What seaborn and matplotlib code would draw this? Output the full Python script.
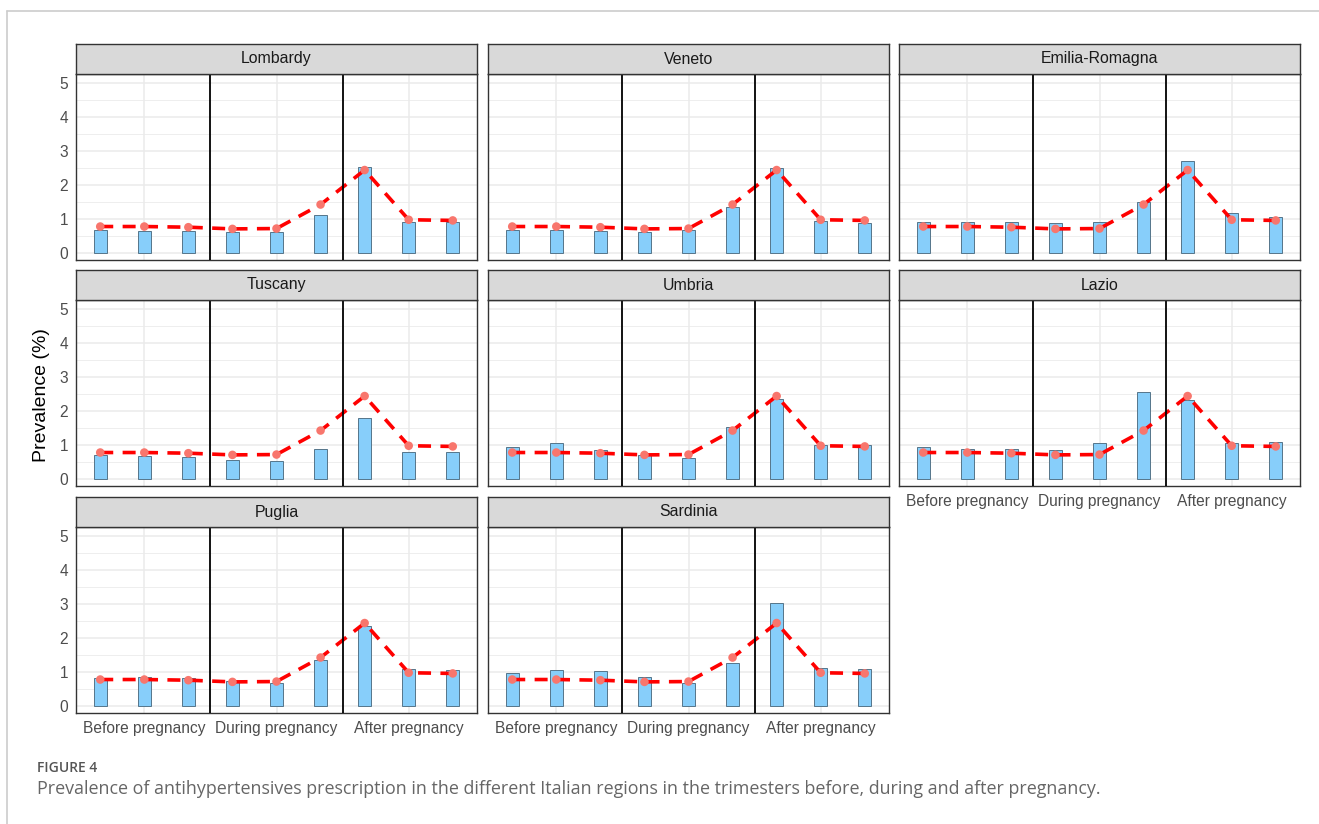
import numpy as np
import pandas as pd
import matplotlib.pyplot as plt
import seaborn as sns
from matplotlib.lines import Line2D

# data (prevalence %, 3 trimesters x before/during/after)
regions = ["Lombardy", "Veneto", "Emilia-Romagna", "Tuscany", "Umbria", "Lazio", "Puglia", "Sardinia"]
periods = ["Before pregnancy", "During pregnancy", "After pregnancy"]
slots = ["B1", "B2", "B3", "D1", "D2", "D3", "A1", "A2", "A3"]

lombardy = [0.66, 0.63, 0.64, 0.60, 0.60, 1.11, 2.54, 0.91, 0.89]
veneto = [0.66, 0.66, 0.63, 0.62, 0.66, 1.36, 2.51, 0.93, 0.86]
emilia = [0.91, 0.91, 0.90, 0.88, 0.90, 1.50, 2.71, 1.16, 1.06]
tuscany = [0.70, 0.66, 0.64, 0.54, 0.51, 0.87, 1.80, 0.78, 0.78]
umbria = [0.93, 1.04, 0.85, 0.70, 0.60, 1.52, 2.35, 1.00, 0.98]
lazio = [0.92, 0.87, 0.88, 0.84, 1.06, 2.57, 2.32, 1.06, 1.08]
puglia = [0.82, 0.85, 0.82, 0.74, 0.68, 1.35, 2.34, 1.08, 1.06]
sardinia = [0.97, 1.05, 1.01, 0.85, 0.68, 1.27, 3.02, 1.11, 1.07]

# national reference (red dashed line)
italy = [0.77, 0.77, 0.75, 0.70, 0.71, 1.42, 2.44, 0.97, 0.95]

values = [lombardy, veneto, emilia, tuscany, umbria, lazio, puglia, sardinia]

rows = []
for r, v in zip(regions, values):
    for s, p in zip(slots, v):
        rows.append({"region": r, "slot": s, "prevalence": p})
df = pd.DataFrame(rows)
ref = pd.DataFrame({"pos": np.arange(len(slots)), "value": italy})

sns.set_style("white")
plt.rcParams['font.family'] = ['Liberation Sans', 'DejaVu Sans']

W, H = 1319, 824
fig = plt.figure(figsize=(W / 100, H / 100), dpi=100)

col_left = [76, 488, 899]
pw = 401
row_top = [74, 300, 527]
ph = 186
strip_h = 30
bottom_panels = {"Lazio", "Puglia", "Sardinia"}

for i, reg in enumerate(regions):
    r, c = divmod(i, 3)
    l, t = col_left[c], row_top[r]
    ax = fig.add_axes([l / W, 1 - (t + ph) / H, pw / W, ph / H])
    sub = df[df.region == reg]
    sns.barplot(data=sub, x="slot", y="prevalence", order=slots, width=0.3,
                color="#87CEFA", saturation=1, edgecolor="#55758a", linewidth=0.7, ax=ax)
    sns.lineplot(data=ref, x="pos", y="value", color="#FF0000", linewidth=2.6,
                 linestyle=(0, (3.6, 2.6)), ax=ax, zorder=3)
    sns.scatterplot(data=ref, x="pos", y="value", color="#F8766D", s=38,
                    edgecolor="none", ax=ax, zorder=4)
    ax.axvline(2.5, color="black", lw=1.3, zorder=5)
    ax.axvline(5.5, color="black", lw=1.3, zorder=5)

    ax.set_xlim(-0.55, 8.55)
    ax.set_ylim(-0.22, 5.28)
    ax.set_yticks(range(6))
    ax.set_yticks(np.arange(0.5, 5.5, 1), minor=True)
    ax.set_xticks([1, 4, 7])
    ax.set_xticklabels(periods)
    ax.grid(which="major", color="#EBEBEB", lw=1.1)
    ax.grid(which="minor", axis="y", color="#EBEBEB", lw=0.6)
    ax.set_axisbelow(True)
    ax.set_xlabel("")
    ax.set_ylabel("")
    for sp in ax.spines.values():
        sp.set_color("#333333")
        sp.set_linewidth(1.0)
    ax.tick_params(axis="both", which="major", length=3.5, color="#333333",
                   labelcolor="#4D4D4D", labelsize=11.2, pad=2, width=0.9)
    ax.tick_params(axis="y", which="minor", length=0)
    if c > 0:
        ax.tick_params(axis="y", length=0, labelleft=False)
    if reg not in bottom_panels:
        ax.tick_params(axis="x", length=0, labelbottom=False)

    # facet strip
    sax = fig.add_axes([l / W, 1 - t / H, pw / W, strip_h / H])
    sax.set_facecolor("#D9D9D9")
    sax.set_xticks([])
    sax.set_yticks([])
    for sp in sax.spines.values():
        sp.set_color("#333333")
        sp.set_linewidth(1.0)
    sax.text(0.5, 0.5, reg, ha="center", va="center", fontsize=11.4,
             color="#1A1A1A", transform=sax.transAxes)

fig.text(42 / W, 1 - 395 / H, "Prevalence (%)", rotation=90, ha="center",
         va="center", fontsize=14, color="black")

# page frame lines
fig.add_artist(Line2D([7 / W, 1], [1 - 10.5 / H, 1 - 10.5 / H], color="#cccccc", lw=1.2))
fig.add_artist(Line2D([7 / W, 7 / W], [0, 1 - 10.5 / H], color="#cccccc", lw=1.2))

fig.text(37 / W, 1 - 768 / H, "FIGURE 4", ha="left", va="center", fontsize=10,
         weight="semibold", color="#555555", family=["Open Sans", "DejaVu Sans"])
fig.text(37 / W, 1 - 789 / H,
         "Prevalence of antihypertensives prescription in the different Italian regions in the trimesters before, during and after pregnancy.",
         ha="left", va="center", fontsize=12.9, color="#666666",
         family=["Open Sans", "DejaVu Sans"])

fig.savefig("out.png", dpi=100)
